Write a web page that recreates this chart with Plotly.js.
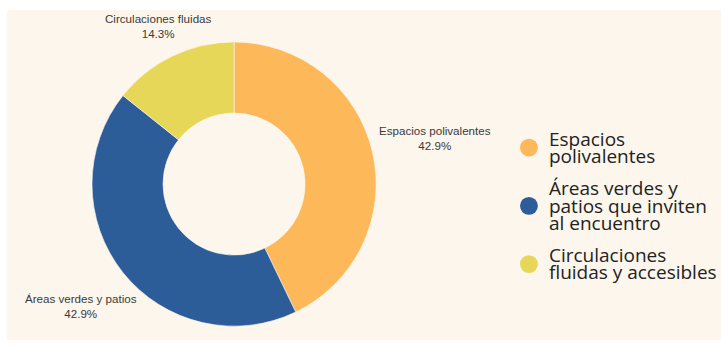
<!DOCTYPE html>
<html>
<head>
<meta charset="utf-8">
<script src="https://cdn.plot.ly/plotly-3.0.1.min.js"></script>
<style>
  html, body { margin: 0; padding: 0; background: #ffffff; width: 721px; height: 347px; overflow: hidden; }
  #chart { position: absolute; left: 7px; top: 10px; width: 714px; height: 330px; }
</style>
</head>
<body>
<div id="chart"></div>
<script>
// Data
const sliceLabels = ["Espacios polivalentes", "Áreas verdes y patios", "Circulaciones fluidas"];
const legendLabels = ["Espacios<br>polivalentes", "Áreas verdes y<br>patios que inviten<br>al encuentro", "Circulaciones<br>fluidas y accesibles"];
const values = [3, 3, 1];
const colors = ["#FDB85A", "#2D5D98", "#E7D759"];

const bg = "#FCF6EC";
const W = 714, H = 330;
const dom = { x: [0.119, 0.517], y: [0.042, 0.903] };
const labelFont = { family: "Liberation Sans, Arial, sans-serif", size: 11.6, color: "#3a3a3a" };
const legendLayoutSize = 17, legendGlyphSize = 19;

const pieTrace = {
  type: "pie",
  labels: sliceLabels,
  values: values,
  hole: 0.5,
  sort: false,
  direction: "clockwise",
  rotation: 0,
  marker: { colors: colors, line: { color: bg, width: 0.6 } },
  textinfo: "none",
  domain: dom,
  showlegend: false,
  hoverinfo: "none"
};

const legendTraces = legendLabels.map((name, i) => ({
  type: "scatter",
  mode: "markers",
  x: [null],
  y: [null],
  name: name,
  marker: { color: colors[i], size: 16, symbol: "circle" },
  hoverinfo: "none"
}));

// Outside labels placed radially at each slice's mid-angle
const ctx = document.createElement("canvas").getContext("2d");
ctx.font = labelFont.size + "px 'Liberation Sans'";
const total = values.reduce((a, b) => a + b, 0);
const cxPx = (dom.x[0] + dom.x[1]) / 2 * W;
const cyPx = (1 - (dom.y[0] + dom.y[1]) / 2) * H;
const rPx = Math.min((dom.x[1] - dom.x[0]) * W, (dom.y[1] - dom.y[0]) * H) / 2;
let cum = 0;
const annotations = values.map((v, i) => {
  const pct = (100 * v / total).toFixed(1) + "%";
  const lines = [sliceLabels[i], pct];
  const w = Math.max(...lines.map(l => ctx.measureText(l).width));
  const th = 2 * Math.PI * (cum + v / 2) / total;
  cum += v;
  const ux = Math.sin(th), uy = -Math.cos(th);
  const D = rPx + 10 + Math.abs(ux) * w / 2;
  const px = cxPx + ux * D, py = cyPx + uy * D;
  return {
    xref: "paper", yref: "paper",
    x: px / W, y: 1 - py / H,
    xanchor: "center", yanchor: "middle",
    text: lines.join("<br>"),
    showarrow: false,
    align: "center",
    font: labelFont
  };
});

const layout = {
  width: W,
  height: H,
  margin: { l: 0, r: 0, t: 0, b: 0 },
  paper_bgcolor: bg,
  plot_bgcolor: bg,
  xaxis: { visible: false },
  yaxis: { visible: false },
  showlegend: true,
  annotations: annotations,
  legend: {
    x: 0.703, xanchor: "left",
    y: 0.406, yanchor: "middle",
    bgcolor: "rgba(0,0,0,0)",
    font: { family: "Open Sans, sans-serif", size: legendLayoutSize, color: "#222222" },
    valign: "middle",
    tracegroupgap: 0
  }
};

Plotly.newPlot("chart", [pieTrace].concat(legendTraces), layout, { displayModeBar: false, staticPlot: true }).then(gd => {
  // larger glyphs with tighter line spacing, as in the reference
  const newLH = 0.9, oldLH = 1.3;
  gd.querySelectorAll(".legend [clip-path]").forEach(e => e.removeAttribute("clip-path"));
  gd.querySelectorAll(".legend .legendtext").forEach(t => {
    t.style.fontSize = legendGlyphSize + "px";
    const lines = t.querySelectorAll("tspan.line");
    const n = Math.max(lines.length, 1);
    const shift = (n - 1) * (oldLH * legendLayoutSize - newLH * legendGlyphSize) / 2;
    if (lines.length > 1) {
      lines.forEach((ts, k) => {
        ts.setAttribute("dy", (k * newLH) + "em");
        const y = ts.getAttribute("y");
        if (y !== null) ts.setAttribute("y", parseFloat(y) + shift);
      });
    }
    const y0 = t.getAttribute("y");
    if (y0 !== null) t.setAttribute("y", parseFloat(y0) + shift);
  });
  gd.querySelectorAll(".legend path.scatterpts").forEach(p => {
    const tr = p.getAttribute("transform") || "";
    p.setAttribute("transform", tr + " scale(1.12)");
  });
});
</script>
</body>
</html>
